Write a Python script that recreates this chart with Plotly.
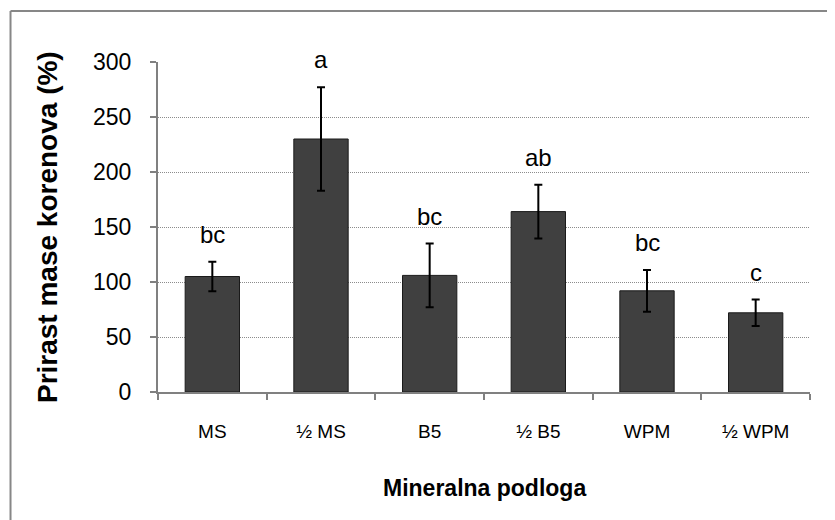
import plotly.graph_objects as go

categories = ["MS", "½ MS", "B5", "½ B5", "WPM", "½ WPM"]
means = [105, 230, 106, 164, 92, 72]
errors = [13.5, 47, 29, 24.5, 19, 12]
letters = ["bc", "a", "bc", "ab", "bc", "c"]
y_ticks = [0, 50, 100, 150, 200, 250, 300]

SANS = "Liberation Sans, Arial"

fig = go.Figure()
fig.add_trace(go.Bar(
    x=categories, y=means,
    marker=dict(color="#404040", line=dict(color="#1a1a1a", width=1)),
    error_y=dict(type="data", array=errors, visible=True,
                 color="#000000", thickness=2, width=4),
))

for c, m, e, l in zip(categories, means, errors, letters):
    fig.add_annotation(x=c, y=m + e, text=l, showarrow=False,
                       yanchor="bottom", yshift=12,
                       font=dict(family=SANS, size=24, color="#000000"))

fig.add_annotation(xref="paper", yref="paper", x=0.5, y=-0.291,
                   text="<b>Mineralna podloga</b>", showarrow=False,
                   xanchor="center", yanchor="middle",
                   font=dict(family=SANS, size=23, color="#000000"))
fig.add_annotation(xref="paper", yref="paper", x=-0.1702, y=0.5,
                   text="<b>Prirast mase korenova (%)</b>", showarrow=False,
                   textangle=-90, xanchor="center", yanchor="middle",
                   font=dict(family=SANS, size=28, color="#000000"))

# outer chart frame (top and left edges visible)
fig.add_shape(type="line", xref="paper", yref="paper",
              x0=-0.2262, x1=1.1, y0=1.1545, y1=1.1545,
              line=dict(color="#878787", width=2))
fig.add_shape(type="line", xref="paper", yref="paper",
              x0=-0.2262, x1=-0.2262, y0=1.1545, y1=-0.45,
              line=dict(color="#878787", width=2))

fig.update_layout(
    width=835, height=520,
    margin=dict(l=150, r=33, t=54, b=136),
    paper_bgcolor="white", plot_bgcolor="white",
    bargap=0.5, showlegend=False,
    xaxis=dict(
        showline=True, linecolor="#808080", linewidth=2,
        ticks="outside", ticklen=6, tickwidth=2, tickcolor="#808080",
        tickson="boundaries", showgrid=False,
        tickfont=dict(family=SANS, size=19, color="#000000"),
        ticklabelstandoff=21,
    ),
    yaxis=dict(
        range=[0, 300], tickvals=y_ticks,
        showline=True, linecolor="#808080", linewidth=2,
        ticks="outside", ticklen=6, tickwidth=2, tickcolor="#808080",
        showgrid=True, gridcolor="#8c8c8c", gridwidth=1, griddash="1px,1px",
        zeroline=False,
        tickfont=dict(family=SANS, size=23, color="#000000"),
        ticklabelstandoff=14,
    ),
)

fig.write_html("out.html")
